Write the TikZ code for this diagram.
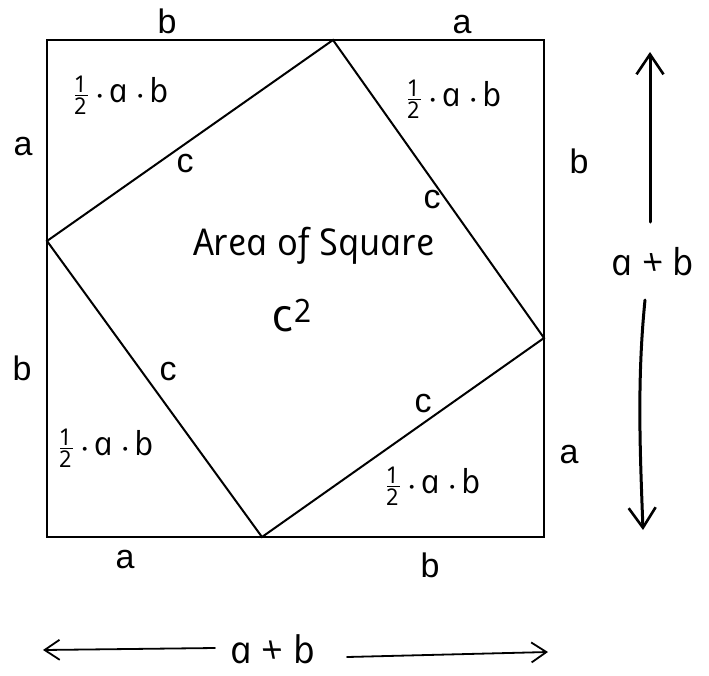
\documentclass[tikz,border=0pt]{standalone}
\usepackage{amsmath}
\usepackage{fontspec}
\setmainfont{Liberation Sans}
\newfontface\hand{Open Sans Italic}[FakeSlant=-0.2]
\usetikzlibrary{arrows.meta}
\newcommand{\halfab}{$\frac{\text{1}}{\text{2}}\mkern5mu{\boldsymbol\cdot}\mkern5mu\text{a}\mkern5mu{\boldsymbol\cdot}\mkern5mu\text{b}$}
\begin{document}
\begin{tikzpicture}[x=1pt,y=-1pt,
  side/.style={font=\fontsize{34}{40}\selectfont, anchor=base, inner sep=0pt},
  half/.style={font=\hand\fontsize{33}{38}\selectfont, inner sep=0pt},
  handtxt/.style={font=\hand\fontsize{37}{42}\selectfont, inner sep=0pt},
  edge/.style={line width=2pt, line join=miter},
  bigarrow/.style={line width=3pt, line cap=round, -{Straight Barb[length=20pt,width=27pt,line width=2.6pt]}},
  thinarrow/.style={line width=1.8pt, line cap=round, -{Straight Barb[length=15pt,width=20pt,line width=1.8pt]}}
]
\useasboundingbox (0,0) rectangle (709,675);
% outer square corners
\coordinate (TL) at (47,40);
\coordinate (BR) at (544,537);
% inner square vertices
\coordinate (P1) at (333,40);
\coordinate (P2) at (544,338);
\coordinate (P3) at (262,537);
\coordinate (P4) at (47,241);
\draw[edge] (TL) rectangle (BR);
\draw[edge] (P1) -- (P2) -- (P3) -- (P4) -- cycle;
% side labels
\node[side] (tb) at (167,33) {b};
\node[side] (ta) at (462,33) {a};
\node[side] (la) at (23,155) {a};
\node[side] (lb) at (22,380) {b};
\node[side] (rb) at (579,173) {b};
\node[side] (ra) at (569,463) {a};
\node[side] (ba) at (125,568) {a};
\node[side] (bb) at (430,577) {b};
% hypotenuse labels
\node[side] (c1) at (185,172) {c};
\node[side] (c2) at (432,208) {c};
\node[side] (c3) at (168,380) {c};
\node[side] (c4) at (423,412) {c};
% triangle areas
\node[half] (h1) at (122,95) {\halfab};
\node[half] (h2) at (455,99) {\halfab};
\node[half] (h3) at (107,448) {\halfab};
\node[half] (h4) at (434,486) {\halfab};
% centre text
\node[handtxt] (area) at (316,246) {Area of Square};
\node[font=\hand\fontsize{46}{50}\selectfont, inner sep=0pt] (csq) at (294,316) {c$^{\text{2}}$};
% vertical dimension
\node[handtxt] (vab) at (655,262) {a + b};
\coordinate (upTop) at (650,52);
\coordinate (upBot) at (650,222);
\coordinate (dnTop) at (645,300);
\coordinate (dnBot) at (643,530);
\draw[bigarrow] (upBot) -- (upTop);
\draw[bigarrow] (dnTop) .. controls (637,380) and (640,450) .. (dnBot);
% horizontal dimension
\node[font=\hand\fontsize{38}{42}\selectfont, inner sep=0pt] (hab) at (275,649) {a + b};
\coordinate (lTip) at (43,650);
\coordinate (lEnd) at (215,648);
\coordinate (rStart) at (347,657);
\coordinate (rTip) at (548,652);
\draw[thinarrow] (lEnd) -- (lTip);
\draw[thinarrow] (rStart) -- (rTip);
\end{tikzpicture}
\end{document}
